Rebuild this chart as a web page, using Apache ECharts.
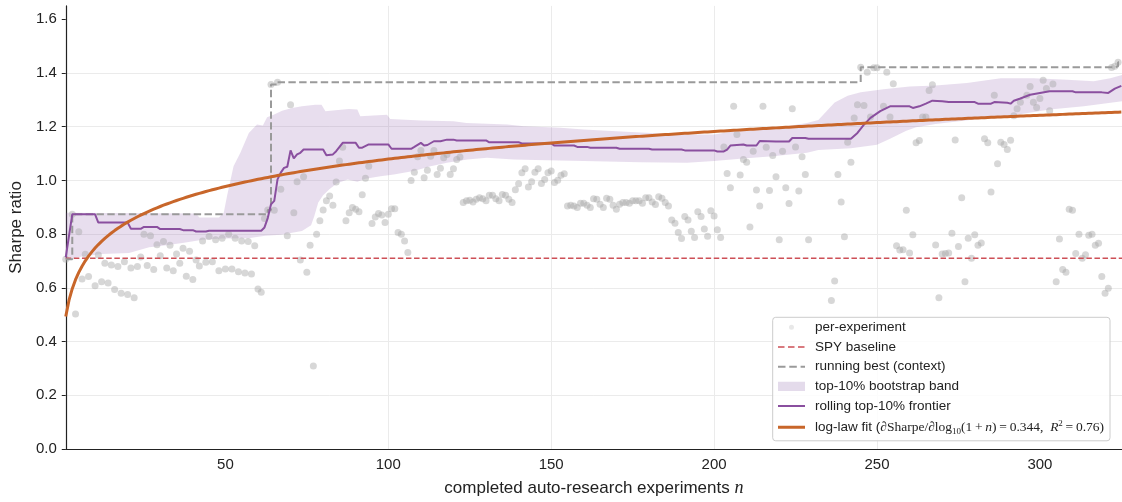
<!DOCTYPE html>
<html>
<head>
<meta charset="utf-8">
<title>Sharpe ratio vs completed auto-research experiments</title>
<script src="https://cdn.jsdelivr.net/npm/echarts@6/dist/echarts.min.js"></script>
<style>
  html, body { margin: 0; padding: 0; background: #ffffff; }
  #chart { width: 1122px; height: 502px; }
</style>
</head>
<body>
<div id="chart"></div>
<script>
// ---- data -------------------------------------------------------------
// experiment index n
const experimentN = [
  1, 3, 4, 5, 6, 7, 8, 10, 11, 12, 13, 14, 15, 16, 17, 18, 19, 20,
  21, 22, 23, 24, 25, 26, 27, 28, 29, 30, 31, 32, 33, 34, 35, 36, 37, 38, 39, 40,
  41, 42, 43, 44, 45, 46, 47, 48, 49, 50, 51, 52, 53, 54, 55, 56, 57, 58, 59, 60,
  61, 62, 63, 64, 65, 66, 67, 69, 70, 71, 72, 73, 74, 75, 76, 77, 78, 79, 80,
  81, 82, 83, 84, 85, 86, 87, 88, 89, 90, 91, 92, 93, 94, 95, 96, 97, 98, 99, 100,
  101, 102, 103, 104, 105, 106, 107, 108, 109, 110, 111, 112, 113, 114, 115, 116, 117, 118, 119, 120,
  121, 122, 123, 124, 125, 126, 127, 128, 129, 130, 131, 132, 133, 134, 135, 136, 137, 138, 139, 140,
  141, 142, 143, 144, 145, 146, 147, 148, 149, 150, 151, 152, 153, 154, 155, 156, 157, 158, 159, 160,
  161, 162, 163, 164, 165, 166, 167, 168, 169, 170, 171, 172, 173, 174, 175, 176, 177, 178, 179, 180,
  181, 182, 183, 184, 185, 186, 187, 188, 189, 190, 191, 192, 193, 194, 195, 196, 197, 198, 199, 200,
  201, 202, 203, 204, 205, 206, 207, 208, 209, 210, 211, 212, 213, 214, 215, 216, 217, 218, 219, 220,
  221, 222, 223, 224, 225, 226, 227, 228, 229,
  236, 237, 238, 239, 240, 241, 242, 243, 244, 245, 246, 247, 248, 249, 250,
  252, 253, 254, 255, 256, 257, 258, 259, 260,
  261, 262, 263, 264, 265, 266, 267, 268, 269, 270, 271, 272, 273, 274, 275, 276, 277, 278, 279, 280,
  281, 282, 283, 284, 285, 286, 287, 288, 289, 290, 291, 292, 293, 294, 296, 297, 298, 299, 300,
  301, 302, 303, 304, 305, 306, 307, 308, 309, 310, 311, 312, 313, 314, 315, 316, 317, 318, 319, 320,
  321, 322, 323, 324
];
// Sharpe ratio of each experiment
const experimentSharpe = [
  0.707, 0.874, 0.503, 0.809, 0.633, 0.725, 0.642, 0.608, 0.722, 0.623, 0.692, 0.618, 0.685, 0.594, 0.680, 0.580, 0.697, 0.575,
  0.674, 0.563, 0.680, 0.715, 0.800, 0.683, 0.794, 0.668, 0.761, 0.720, 0.773, 0.674, 0.759, 0.664, 0.726, 0.692, 0.748, 0.643, 0.736, 0.631,
  0.704, 0.681, 0.775, 0.695, 0.791, 0.697, 0.779, 0.664, 0.785, 0.670, 0.800, 0.670, 0.785, 0.660, 0.775, 0.655, 0.773, 0.652, 0.757, 0.596,
  0.584, 0.858, 0.890, 1.357, 0.889, 1.366, 0.967, 0.794, 1.282, 0.880, 0.995, 0.704, 1.014, 0.658, 0.759, 0.309, 0.800, 0.850, 0.890,
  0.924, 0.942, 0.908, 0.994, 1.072, 1.124, 0.850, 0.880, 0.899, 0.893, 0.883, 0.947, 1.008, 1.053, 0.840, 0.864, 0.877, 0.871, 0.843, 0.874,
  0.895, 0.895, 0.806, 0.800, 0.775, 0.732, 1.000, 1.031, 1.088, 1.112, 1.010, 1.038, 1.090, 1.112, 1.022, 1.045, 1.085, 1.097, 1.022, 1.044,
  1.078, 1.087, 0.918, 0.924, 0.926, 0.920, 0.930, 0.936, 0.932, 0.924, 0.945, 0.945, 0.932, 0.924, 0.948, 0.945, 0.930, 0.918, 0.965, 0.988,
  1.029, 1.044, 0.976, 0.995, 1.031, 1.044, 0.989, 1.004, 1.029, 1.035, 0.992, 1.001, 1.019, 1.025, 0.905, 0.908, 0.905, 0.899, 0.915, 0.915,
  0.908, 0.899, 0.932, 0.930, 0.911, 0.899, 0.934, 0.930, 0.908, 0.893, 0.911, 0.918, 0.918, 0.915, 0.924, 0.924, 0.924, 0.915, 0.936, 0.936,
  0.920, 0.910, 0.939, 0.934, 0.918, 0.905, 0.853, 0.841, 0.806, 0.784, 0.866, 0.853, 0.811, 0.788, 0.883, 0.866, 0.819, 0.792, 0.887, 0.868,
  0.816, 0.788, 1.125, 1.026, 0.973, 1.276, 1.171, 1.020, 1.078, 1.068, 0.827, 1.109, 0.964, 0.905, 1.276, 1.124, 0.963, 1.093, 1.014, 0.779,
  1.109, 0.973, 0.914, 1.267, 1.125, 0.961, 1.088, 1.022, 0.779,
  0.553, 0.626, 1.022, 0.920, 0.790, 1.142, 1.068, 1.233, 1.282, 1.422, 1.279, 1.403, 1.236, 1.420, 1.420,
  1.276, 1.403, 1.236, 1.360, 0.757, 0.741, 0.742, 0.889, 0.730,
  0.798, 1.140, 1.149, 1.236, 1.236, 1.335, 1.356, 0.760, 0.563, 0.726, 0.728, 0.730, 0.803, 1.151, 0.754, 0.936, 0.623, 0.785, 0.710, 0.798,
  0.759, 0.767, 1.155, 1.140, 0.957, 1.317, 1.062, 1.142, 1.134, 1.115, 1.150, 1.241, 1.267, 1.291, 1.317, 1.350, 1.291, 1.272, 1.305,
  1.373, 1.342, 1.260, 1.359, 0.623, 0.782, 0.668, 0.658, 0.893, 0.889, 0.728, 0.800, 0.710, 0.723, 0.796, 0.800, 0.759, 0.766, 0.642, 0.580,
  0.599, 1.421, 1.425, 1.440
];

// rolling top-10% frontier
const frontierN = [
  1, 3, 10, 11, 20, 21, 24, 25, 29, 30, 36, 37, 40, 41, 44, 45, 61, 62, 63, 64,
  65, 66, 67, 68, 69, 70, 71, 72, 73, 74, 80, 81, 83, 84, 86, 90, 91, 92, 94, 100,
  101, 107, 108, 110, 111, 112, 114, 116, 118, 120, 121, 130, 131, 140, 141, 150, 151, 157, 158, 161,
  162, 170, 171, 180, 181, 190, 191, 200, 201, 203, 204, 205, 209, 210, 213, 214, 219, 223, 224, 228,
  229, 242, 244, 246, 248, 251, 254, 260, 261, 263, 265, 267, 270, 272, 280, 281, 285, 286, 290, 291,
  292, 294, 297, 300, 303, 310, 311, 319, 321, 323, 325
];
const frontierSharpe = [
  0.714, 0.874, 0.874, 0.843, 0.843, 0.820, 0.820, 0.827, 0.827, 0.819, 0.819, 0.815, 0.815, 0.810, 0.810, 0.813, 0.813, 0.825, 0.860, 0.911,
  0.924, 1.004, 1.029, 1.047, 1.051, 1.112, 1.082, 1.097, 1.103, 1.115, 1.115, 1.094, 1.097, 1.109, 1.140, 1.140, 1.122, 1.122, 1.134, 1.134,
  1.118, 1.118, 1.125, 1.140, 1.130, 1.132, 1.146, 1.146, 1.152, 1.152, 1.149, 1.149, 1.142, 1.142, 1.138, 1.138, 1.130, 1.130, 1.125, 1.125,
  1.122, 1.122, 1.118, 1.118, 1.115, 1.115, 1.112, 1.112, 1.108, 1.108, 1.115, 1.130, 1.134, 1.130, 1.130, 1.147, 1.145, 1.145, 1.158, 1.158,
  1.155, 1.155, 1.177, 1.208, 1.233, 1.258, 1.276, 1.276, 1.270, 1.276, 1.286, 1.297, 1.295, 1.292, 1.292, 1.286, 1.286, 1.292, 1.289, 1.286,
  1.297, 1.305, 1.319, 1.326, 1.332, 1.332, 1.328, 1.328, 1.326, 1.342, 1.352
];

// top-10% bootstrap band: upper and lower edges
const bandUpperN = [
  1, 41, 42, 48, 49.5, 50.5, 52.5, 54.6, 57.2, 59.7, 61.5, 62.8, 64.8, 67.4, 70.5, 73.5, 77.6, 79.5, 80.7, 83.8,
  87.9, 90.5, 91.4, 99.6, 100.6, 110, 120, 124, 136.5, 141.6, 152.8, 160, 170, 180.5, 190.7, 200, 206, 213, 222.4, 228.5,
  232, 237, 241, 245, 252, 260, 268, 277.6, 288, 298, 308.4, 316.5, 321.6, 325.2
];
const bandUpperSharpe = [
  0.880, 0.877, 0.862, 0.862, 0.880, 0.942, 1.053, 1.103, 1.177, 1.208, 1.205, 1.235, 1.245, 1.260, 1.270, 1.276, 1.282, 1.282, 1.258, 1.261,
  1.266, 1.264, 1.239, 1.245, 1.229, 1.223, 1.220, 1.214, 1.208, 1.202, 1.196, 1.190, 1.183, 1.177, 1.171, 1.171, 1.183, 1.190, 1.202, 1.214,
  1.225, 1.290, 1.315, 1.328, 1.340, 1.350, 1.354, 1.363, 1.381, 1.381, 1.375, 1.369, 1.381, 1.393
];
const bandLowerN = [
  1, 6, 12, 20.4, 26.6, 30.7, 36.8, 43, 49, 57, 62.3, 67, 73.5, 76.3, 77.3, 78.5, 80, 82, 84.3, 87.5,
  90.5, 93, 97.6, 101.7, 107.8, 113, 118, 124.2, 130.3, 138.5, 148.7, 160, 177.4, 191.7, 200, 208, 218, 228.5, 232, 242,
  250, 254, 259, 262, 268, 283, 293, 303, 313.5, 325.2
];
const bandLowerSharpe = [
  0.705, 0.717, 0.726, 0.730, 0.751, 0.757, 0.767, 0.779, 0.784, 0.785, 0.794, 0.798, 0.812, 0.833, 0.868, 0.918, 0.945, 0.968, 0.990, 1.004,
  0.995, 1.006, 1.016, 1.022, 1.035, 1.053, 1.066, 1.078, 1.085, 1.078, 1.075, 1.072, 1.068, 1.066, 1.072, 1.081, 1.090, 1.103, 1.113, 1.120,
  1.133, 1.155, 1.185, 1.198, 1.210, 1.232, 1.245, 1.264, 1.276, 1.295
];

// reference levels and fitted log-law
const spyBaseline = 0.71;
const fitSlope = 0.344;      // dSharpe / dlog10(1+n)
const fitIntercept = 0.39;
const fitR2 = 0.76;

// axis ticks
const xTickValues = [50, 100, 150, 200, 250, 300];
const yTickValues = [0.0, 0.2, 0.4, 0.6, 0.8, 1.0, 1.2, 1.4, 1.6];

// ---- derived series ---------------------------------------------------
const X_MIN = 1, X_MAX = 325.2;
const Y_MIN = 0, Y_MAX = 1.65;

const scatterData = experimentN.map((n, i) => [n, experimentSharpe[i]]);

const runningBest = [];
let best = -Infinity;
experimentN.forEach((n, i) => {
  best = Math.max(best, experimentSharpe[i]);
  runningBest.push([n, best]);
});
runningBest.push([X_MAX, best]);

const frontierData = frontierN.map((n, i) => [n, frontierSharpe[i]]);

const fitData = [];
for (let n = 1; n <= 325; n++) {
  fitData.push([n, fitIntercept + fitSlope * Math.log10(1 + n)]);
}
fitData.push([X_MAX, fitIntercept + fitSlope * Math.log10(1 + X_MAX)]);

// ---- styling ----------------------------------------------------------
const FONT = '"Liberation Sans", Arial, Helvetica, sans-serif';
const SERIF = '"Liberation Serif", "Times New Roman", serif';
const C_POINT = '#a6a6a6';
const C_SPY = '#cd4f56';
const C_BEST = '#9a9a9a';
const C_BAND = 'rgba(140, 90, 170, 0.20)';
const C_BAND_KEY = '#e4dbeb';
const C_FRONTIER = '#8a4f9f';
const C_FIT = '#c8662a';

const NAME_POINTS = 'per-experiment';
const NAME_SPY = 'SPY baseline';
const NAME_BEST = 'running best (context)';
const NAME_BAND = 'top-10% bootstrap band';
const NAME_FRONTIER = 'rolling top-10% frontier';
const NAME_FIT = 'log-law fit';

// legend keys drawn in a 27 x 14 box (corner moves pin the box size)
const BOX = 'M0 0ZM27 14Z';
const ICON_POINT = 'path://' + BOX + 'M11 7a2.5 2.5 0 1 0 5 0a2.5 2.5 0 1 0 -5 0Z';
const ICON_SPY = 'path://' + BOX + 'M0 6.25H6.5V7.75H0ZM10 6.25H16.5V7.75H10ZM20 6.25H26.5V7.75H20Z';
const ICON_BEST = 'path://' + BOX + 'M0 6H7.5V8H0ZM11.3 6H18.8V8H11.3ZM22.6 6H27V8H22.6Z';
const ICON_BAND = 'path://' + BOX + 'M0 2.4H27V11.6H0Z';
const ICON_FRONTIER = 'path://' + BOX + 'M0 6H27V8H0Z';
const ICON_FIT = 'path://' + BOX + 'M0 5.5H27V8.5H0Z';

const fitLabel =
  '{s|log-law fit (}{m|\u2202Sharpe/\u2202log}{sub|10}{m|(1\u2009+\u2009}{i|n}{m|)\u2009=\u20090.344,\u2002}' +
  '{i|R}{sup|2}{m|\u2009=\u2009' + fitR2.toFixed(2) + ')}';

const chart = echarts.init(document.getElementById('chart'), null, { renderer: 'canvas' });

const option = {
  animation: false,
  backgroundColor: '#ffffff',
  textStyle: { fontFamily: FONT },
  grid: { left: 65.7, top: 5.9, width: 1056.3, height: 444.8, containLabel: false },
  xAxis: {
    type: 'value',
    min: X_MIN,
    max: X_MAX,
    name: '{t|completed auto-research experiments }{i|n}',
    nameLocation: 'middle',
    nameGap: 30,
    nameTextStyle: {
      rich: {
        t: { fontFamily: FONT, fontSize: 17, color: '#222222' },
        i: { fontFamily: SERIF, fontStyle: 'italic', fontSize: 18, color: '#222222' }
      }
    },
    axisLine: { show: true, onZero: false, lineStyle: { color: '#222222', width: 1.2 } },
    axisTick: { show: false, customValues: xTickValues },
    axisLabel: { customValues: xTickValues, fontFamily: FONT, fontSize: 15, color: '#222222', margin: 8 },
    splitLine: { show: true, showMinLine: false, showMaxLine: false, lineStyle: { color: '#ebebeb', width: 1 } }
  },
  yAxis: {
    type: 'value',
    min: Y_MIN,
    max: Y_MAX,
    interval: 0.2,
    name: 'Sharpe ratio',
    nameLocation: 'middle',
    nameGap: 38,
    nameTextStyle: { fontFamily: FONT, fontSize: 17, color: '#222222' },
    axisLine: { show: true, onZero: false, lineStyle: { color: '#222222', width: 1.2 } },
    axisTick: { show: true, length: 4, customValues: yTickValues, lineStyle: { color: '#222222', width: 1 } },
    axisLabel: {
      customValues: yTickValues,
      formatter: v => Number(v).toFixed(1),
      fontFamily: FONT, fontSize: 15, color: '#222222', margin: 9
    },
    splitLine: { show: true, showMinLine: false, showMaxLine: false, lineStyle: { color: '#ebebeb', width: 1 } }
  },
  legend: {
    orient: 'vertical',
    left: 772.7,
    top: 317.3,
    padding: [3, 6, 5, 5.3],
    itemWidth: 27,
    itemHeight: 14,
    itemGap: 5.7,
    selectedMode: false,
    backgroundColor: 'rgba(255,255,255,0.85)',
    borderColor: '#cccccc',
    borderWidth: 1,
    borderRadius: 3,
    z: 10,
    textStyle: {
      fontFamily: FONT,
      fontSize: 13.5,
      color: '#222222',
      padding: [0, 0, 0, 5],
      rich: {
        s: { fontFamily: FONT, fontSize: 13.5, color: '#222222', lineHeight: 17 },
        m: { fontFamily: SERIF, fontSize: 13.5, color: '#222222', lineHeight: 17 },
        i: { fontFamily: SERIF, fontStyle: 'italic', fontSize: 13.5, color: '#222222', lineHeight: 17 },
        sub: { fontFamily: SERIF, fontSize: 9, color: '#222222', lineHeight: 9, verticalAlign: 'bottom' },
        sup: { fontFamily: SERIF, fontSize: 9, color: '#222222', lineHeight: 9, verticalAlign: 'top' }
      }
    },
    formatter: name => (name === NAME_FIT ? fitLabel : name),
    data: [
      { name: NAME_POINTS, icon: ICON_POINT, itemStyle: { color: '#cbcbcb', borderWidth: 0 } },
      { name: NAME_SPY, icon: ICON_SPY, itemStyle: { color: C_SPY, borderWidth: 0 } },
      { name: NAME_BEST, icon: ICON_BEST, itemStyle: { color: C_BEST, borderWidth: 0 } },
      { name: NAME_BAND, icon: ICON_BAND, itemStyle: { color: C_BAND_KEY, borderWidth: 0 } },
      { name: NAME_FRONTIER, icon: ICON_FRONTIER, itemStyle: { color: C_FRONTIER, borderWidth: 0 } },
      { name: NAME_FIT, icon: ICON_FIT, itemStyle: { color: C_FIT, borderWidth: 0 } }
    ]
  },
  series: [
    {
      // shaded band between the upper and lower bootstrap edges
      name: NAME_BAND,
      type: 'custom',
      z: 1,
      silent: true,
      clip: true,
      data: [[bandUpperN[0], bandUpperSharpe[0]]],
      itemStyle: { color: C_BAND_KEY },
      renderItem: (params, api) => {
        const pts = [];
        for (let i = 0; i < bandUpperN.length; i++) {
          pts.push(api.coord([bandUpperN[i], bandUpperSharpe[i]]));
        }
        for (let i = bandLowerN.length - 1; i >= 0; i--) {
          pts.push(api.coord([bandLowerN[i], bandLowerSharpe[i]]));
        }
        return {
          type: 'polygon',
          shape: { points: pts },
          style: { fill: C_BAND, stroke: null }
        };
      }
    },
    {
      name: NAME_POINTS,
      type: 'scatter',
      z: 2,
      symbol: 'circle',
      symbolSize: 7,
      itemStyle: { color: C_POINT, opacity: 0.45 },
      data: scatterData
    },
    {
      name: NAME_SPY,
      type: 'line',
      z: 3,
      symbol: 'none',
      silent: true,
      lineStyle: { color: C_SPY, width: 1.5, type: [5.5, 2.6] },
      itemStyle: { color: C_SPY },
      data: [[X_MIN, spyBaseline], [X_MAX, spyBaseline]]
    },
    {
      name: NAME_BEST,
      type: 'line',
      z: 4,
      step: 'end',
      symbol: 'none',
      silent: true,
      lineStyle: { color: C_BEST, width: 2, type: [7.4, 3.4] },
      itemStyle: { color: C_BEST },
      data: runningBest
    },
    {
      name: NAME_FRONTIER,
      type: 'line',
      z: 5,
      symbol: 'none',
      silent: true,
      lineStyle: { color: C_FRONTIER, width: 2 },
      itemStyle: { color: C_FRONTIER },
      data: frontierData
    },
    {
      name: NAME_FIT,
      type: 'line',
      z: 6,
      symbol: 'none',
      silent: true,
      lineStyle: { color: C_FIT, width: 3 },
      itemStyle: { color: C_FIT },
      data: fitData
    }
  ]
};

chart.setOption(option);
</script>
</body>
</html>
